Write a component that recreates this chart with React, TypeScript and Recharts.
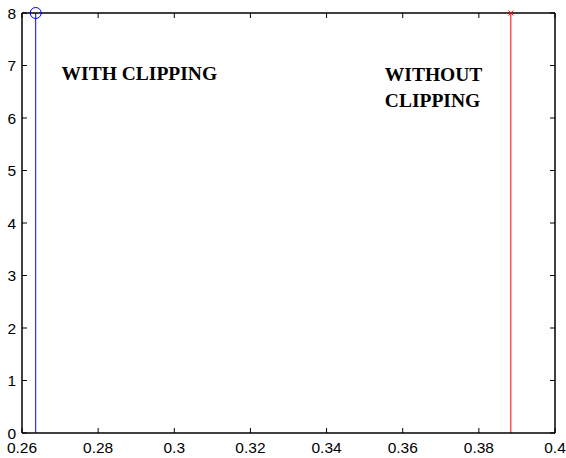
import React from 'react';
import { ComposedChart, Line, Scatter, XAxis, YAxis, ReferenceDot, ReferenceLine } from 'recharts';

const xTicks = [0.26, 0.28, 0.3, 0.32, 0.34, 0.36, 0.38, 0.4];
const yTicks = [0, 1, 2, 3, 4, 5, 6, 7, 8];
const withClipStem = [
  { x: 0.2636, y: 0 },
  { x: 0.2636, y: 8 },
];
const withoutClipStem = [
  { x: 0.3884, y: 0 },
  { x: 0.3884, y: 8 },
];
const withClipTop = [{ x: 0.2636, y: 8 }];
const withoutClipTop = [{ x: 0.3884, y: 8 }];
const annotations = [
  { x: 0.2704, y: 6.72, lines: ['WITH CLIPPING'] },
  { x: 0.3553, y: 6.70, lines: ['WITHOUT', 'CLIPPING'] },
];

const X_MIN = 0.26;
const X_MAX = 0.4;
const Y_MIN = 0;
const Y_MAX = 8;
const PLOT_W = 533;
const PLOT_H = 420;
const TL = 5;
const xTickLenData = ((X_MAX - X_MIN) * TL) / PLOT_W;
const yTickLenData = ((Y_MAX - Y_MIN) * TL) / PLOT_H;

const sansFont = '"Liberation Sans", Arial, Helvetica, sans-serif';
const serifFont = '"Liberation Serif", "Times New Roman", Times, serif';

const BottomTick = (p: any) => (
  <text x={p.x} y={p.y + 20} textAnchor="middle" fontSize={15.5} fontFamily={sansFont} fill="#000">
    {String(p.payload.value)}
  </text>
);
const LeftTick = (p: any) => (
  <text x={p.x - 6} y={p.y + 5.5} textAnchor="end" fontSize={15.5} fontFamily={sansFont} fill="#000">
    {String(p.payload.value)}
  </text>
);

const CircleMarker = (p: any) => (
  <circle cx={p.cx} cy={p.cy} r={5.5} fill="none" stroke="#0000ff" strokeWidth={1} />
);
const XMarker = (p: any) => (
  <g stroke="#ff0000" strokeWidth={1}>
    <line x1={p.cx - 2.5} y1={p.cy - 2.5} x2={p.cx + 2.5} y2={p.cy + 2.5} />
    <line x1={p.cx - 2.5} y1={p.cy + 2.5} x2={p.cx + 2.5} y2={p.cy - 2.5} />
  </g>
);

const makeLabel = (lines: string[]) => (props: any) => {
  const vb = props.viewBox || {};
  const x = (vb.x ?? 0) + (vb.width ?? 0) / 2;
  const y = (vb.y ?? 0) + (vb.height ?? 0) / 2;
  return (
    <text x={x} y={y} fontFamily={serifFont} fontWeight="bold" fontSize={19.5} fill="#000">
      {lines.map((l, i) => (
        <tspan key={i} x={x} dy={i === 0 ? 0 : 26}>
          {l}
        </tspan>
      ))}
    </text>
  );
};

const axisLine = { stroke: '#000', strokeWidth: 1.5 };

export default function App() {
  const tickSegs: { a: { x: number; y: number }; b: { x: number; y: number } }[] = [];
  xTicks.forEach((t) => {
    tickSegs.push({ a: { x: t, y: Y_MIN }, b: { x: t, y: Y_MIN + yTickLenData } });
    tickSegs.push({ a: { x: t, y: Y_MAX }, b: { x: t, y: Y_MAX - yTickLenData } });
  });
  yTicks.forEach((t) => {
    tickSegs.push({ a: { x: X_MIN, y: t }, b: { x: X_MIN + xTickLenData, y: t } });
    tickSegs.push({ a: { x: X_MAX, y: t }, b: { x: X_MAX - xTickLenData, y: t } });
  });
  return (
    <div style={{ position: 'absolute', left: 0, top: 0, width: 566, height: 458, background: '#fff' }}>
      <ComposedChart width={566} height={458} margin={{ top: 12, right: 10, bottom: 0, left: 0 }}>
        <XAxis
          xAxisId="b"
          dataKey="x"
          type="number"
          domain={[X_MIN, X_MAX]}
          ticks={xTicks}
          interval={0}
          height={25}
          tickSize={0}
          tickMargin={0}
          tickLine={false}
          axisLine={axisLine}
          tick={BottomTick}
          allowDataOverflow
        />
        <XAxis
          xAxisId="t"
          dataKey="x"
          type="number"
          orientation="top"
          domain={[X_MIN, X_MAX]}
          ticks={xTicks}
          interval={0}
          height={1}
          tickSize={0}
          tickLine={false}
          axisLine={axisLine}
          tick={false}
          allowDataOverflow
        />
        <YAxis
          yAxisId="l"
          type="number"
          domain={[Y_MIN, Y_MAX]}
          ticks={yTicks}
          interval={0}
          width={22}
          tickSize={0}
          tickMargin={0}
          tickLine={false}
          axisLine={axisLine}
          tick={LeftTick}
        />
        <YAxis
          yAxisId="r"
          type="number"
          orientation="right"
          domain={[Y_MIN, Y_MAX]}
          ticks={yTicks}
          interval={0}
          width={1}
          tickSize={0}
          tickLine={false}
          axisLine={axisLine}
          tick={false}
        />
        {tickSegs.map((s, i) => (
          <ReferenceLine
            key={'tk' + i}
            xAxisId="b"
            yAxisId="l"
            segment={[s.a, s.b]}
            stroke="#000"
            strokeWidth={1}
            ifOverflow="visible"
          />
        ))}
        <Line
          xAxisId="b"
          yAxisId="l"
          data={withClipStem}
          dataKey="y"
          type="linear"
          stroke="#0000ff"
          strokeWidth={1}
          dot={false}
          activeDot={false}
          isAnimationActive={false}
        />
        <Line
          xAxisId="b"
          yAxisId="l"
          data={withoutClipStem}
          dataKey="y"
          type="linear"
          stroke="#ff0000"
          strokeWidth={1}
          dot={false}
          activeDot={false}
          isAnimationActive={false}
        />
        <Scatter xAxisId="t" yAxisId="r" data={withClipTop} dataKey="y" shape={CircleMarker} isAnimationActive={false} />
        <Scatter xAxisId="t" yAxisId="r" data={withoutClipTop} dataKey="y" shape={XMarker} isAnimationActive={false} />
        {annotations.map((a, i) => (
          <ReferenceDot
            key={i}
            xAxisId="b"
            yAxisId="l"
            x={a.x}
            y={a.y}
            r={0}
            fill="none"
            stroke="none"
            label={{ content: makeLabel(a.lines) }}
          />
        ))}
      </ComposedChart>
    </div>
  );
}
